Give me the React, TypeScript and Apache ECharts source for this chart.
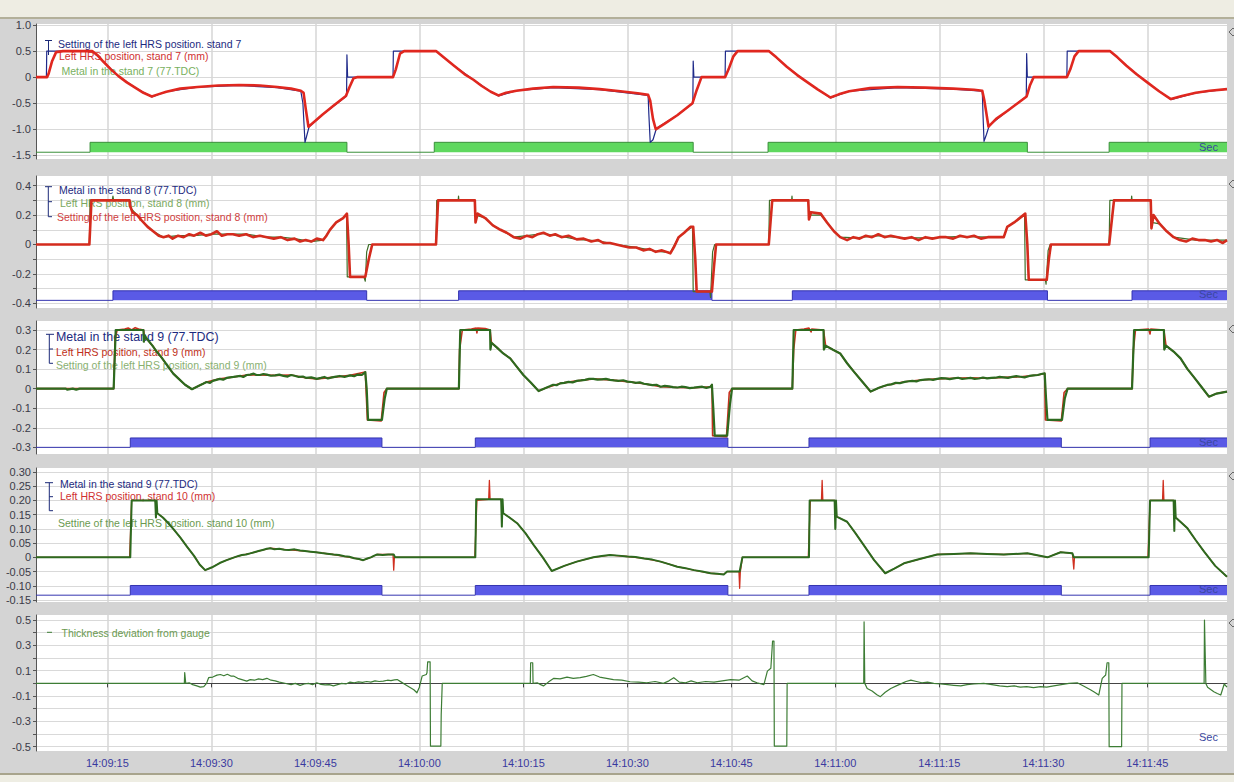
import React, { useEffect, useRef } from "react";
import * as echarts from "echarts";

// ---- time axis (seconds after 14:09:00) ----
const TIME_TICKS = [15, 30, 45, 60, 75, 90, 105, 120, 135, 150, 165];

// ---- y ticks per panel ----
const P1_TICKS = [-1.5, -1.0, -0.5, 0, 0.5, 1.0];
const P1_LABELS = [-1.5, -1.0, -0.5, 0, 0.5, 1.0];
const P2_TICKS = [-0.4, -0.3, -0.2, -0.1, 0, 0.1, 0.2, 0.3, 0.4];
const P2_LABELS = [-0.4, -0.2, 0, 0.2, 0.4];
const P3_TICKS = [-0.3, -0.2, -0.1, 0, 0.1, 0.2, 0.3];
const P3_LABELS = [-0.3, -0.2, -0.1, 0, 0.1, 0.2, 0.3];
const P4_TICKS = [-0.15, -0.1, -0.05, 0, 0.05, 0.1, 0.15, 0.2, 0.25, 0.3];
const P4_LABELS = [-0.15, -0.1, -0.05, 0, 0.05, 0.1, 0.15, 0.2, 0.25, 0.3];
const P5_TICKS = [-0.5, -0.4, -0.3, -0.2, -0.1, 0, 0.1, 0.2, 0.3, 0.4, 0.5];
const P5_LABELS = [-0.5, -0.3, -0.1, 0.1, 0.3, 0.5];

// ---- legend texts ----
const P1_NAMES = ["Setting of the left HRS position. stand 7", "Left HRS position, stand 7 (mm)", "Metal in the stand 7 (77.TDC)"];
const P2_NAMES = ["Metal in the stand 8 (77.TDC)", "Left HRS position, stand 8 (mm)", "Setting of the left HRS position, stand 8 (mm)"];
const P3_NAMES = ["Metal in the stand 9 (77.TDC)", "Left HRS position, stand 9 (mm)", "Setting of the left HRS position, stand 9 (mm)"];
const P4_NAMES = ["Metal in the stand 9 (77.TDC)", "Left HRS position, stand 10 (mm)", "Settine of the left HRS position. stand 10 (mm)"];
const P5_NAMES = ["Thickness deviation from gauge"];

// ---- panel 1 : stand 7 ----
const P1_METAL = [[4.7, -1.44], [12.5, -1.25], [49.55, -1.44], [62.15, -1.25], [99.5, -1.44], [110.3, -1.25], [147.7, -1.44], [159.5, -1.25], [176.5, -1.25]];
const P1_SETTING = [[4.7, 0], [6.2, 0], [6.25, 0.5], [12.8, 0.5], [14.4, 0.3], [16.6, 0.02], [19, -0.2], [21.4, -0.38], [23.5, -0.28], [28, -0.19], [34, -0.16], [39.5, -0.2], [42.9, -0.27], [43.2, -0.5], [43.5, -1.25], [43.8, -1.1], [44.1, -0.95], [46, -0.72], [49.5, -0.36], [49.55, 0.43], [49.65, 0], [56.2, 0], [56.25, 0.5], [62.4, 0.5], [65, 0.22], [67.8, -0.05], [70.3, -0.28], [71.4, -0.36], [74, -0.26], [79.3, -0.2], [86, -0.24], [93, -0.35], [93.1, -0.7], [93.3, -1.25], [93.7, -1.2], [94.2, -0.98], [97.2, -0.73], [99.45, -0.5], [99.5, 0.31], [99.6, 0], [104.1, 0], [104.15, 0.5], [110.4, 0.5], [113, 0.2], [116, -0.1], [119.3, -0.4], [122, -0.27], [129, -0.2], [137, -0.23], [141.2, -0.27], [141.3, -0.7], [141.45, -1.23], [141.8, -1.1], [142.2, -0.93], [144.8, -0.65], [147.55, -0.37], [147.6, 0.45], [147.7, 0], [153.4, 0], [153.45, 0.5], [159.6, 0.5], [162, 0.22], [165, -0.1], [168.4, -0.43], [172, -0.3], [176.5, -0.23]];
const P1_POSITION = [[4.7, 0], [6.3, 0], [6.5, 0.06], [7.0, 0.3], [7.6, 0.48], [8.6, 0.5], [12.8, 0.5], [13.6, 0.42], [14.4, 0.3], [15.5, 0.15], [16.6, 0.02], [17.8, -0.1], [19, -0.2], [20.2, -0.3], [21.4, -0.37], [22.3, -0.33], [23.5, -0.28], [25.5, -0.22], [28, -0.19], [31, -0.16], [34, -0.15], [37, -0.16], [39.5, -0.19], [41.5, -0.22], [42.9, -0.26], [43.3, -0.3], [43.6, -0.6], [44.0, -0.95], [44.8, -0.86], [46, -0.72], [47.6, -0.55], [49.4, -0.36], [49.9, -0.2], [50.5, -0.02], [51, 0], [56.2, 0], [56.6, 0.15], [57.2, 0.45], [57.8, 0.5], [62.4, 0.5], [63.5, 0.38], [65, 0.22], [66.5, 0.06], [67.8, -0.05], [69, -0.17], [70.3, -0.28], [71.4, -0.35], [72.5, -0.3], [74, -0.26], [76.4, -0.22], [79.3, -0.19], [83, -0.2], [86, -0.23], [89, -0.27], [91.5, -0.31], [93, -0.34], [93.3, -0.45], [93.7, -0.8], [94.1, -1.0], [95.5, -0.88], [97.2, -0.73], [99.4, -0.5], [100, -0.25], [100.7, 0], [104.1, 0], [104.6, 0.15], [105.3, 0.4], [105.9, 0.5], [110.4, 0.5], [111.5, 0.38], [113, 0.2], [114.5, 0.04], [116, -0.1], [117.5, -0.24], [119.3, -0.39], [120.5, -0.33], [122, -0.27], [125, -0.21], [129, -0.19], [133, -0.2], [137, -0.22], [140, -0.24], [141.2, -0.26], [141.5, -0.45], [142.1, -0.95], [143.2, -0.8], [144.8, -0.65], [146.3, -0.5], [147.6, -0.37], [148.1, -0.15], [148.6, 0], [153.4, 0], [153.9, 0.15], [154.5, 0.4], [155.1, 0.5], [159.6, 0.5], [160.7, 0.38], [162, 0.22], [163.5, 0.05], [165, -0.1], [166.7, -0.27], [168.4, -0.42], [170, -0.36], [172, -0.3], [174, -0.26], [176.5, -0.23]];

// ---- panel 2 : stand 8 ----
const P2_METAL = [[4.7, -0.38], [15.8, -0.315], [52.4, -0.38], [65.66, -0.315], [102.2, -0.38], [113.8, -0.315], [150.6, -0.38], [162.8, -0.315], [176.5, -0.315]];
const P2_POSITION = [[4.7, 0], [12.4, 0], [12.5, 0.3], [15.7, 0.3], [15.8, 0.33], [15.9, 0.3], [18.2, 0.3], [18.3, 0.25], [19.3, 0.2], [20.0, 0.16], [21.6, 0.09], [23.1, 0.05], [25.2, 0.06], [27.5, 0.06], [30, 0.07], [32.3, 0.07], [35, 0.07], [38, 0.05], [40, 0.05], [42, 0.04], [44.4, 0.02], [46.1, 0.03], [47.1, 0.1], [48, 0.15], [49, 0.18], [49.5, 0.2], [49.6, -0.22], [52, -0.22], [52.2, -0.25], [52.4, -0.05], [52.7, 0], [62.4, 0], [62.5, 0.3], [65.6, 0.3], [65.65, 0.33], [65.7, 0.3], [68, 0.3], [68.1, 0.2], [69.5, 0.18], [70.6, 0.13], [71.7, 0.1], [73.6, 0.05], [75.5, 0.06], [77.9, 0.075], [80.5, 0.055], [82.7, 0.035], [85.8, 0.025], [88.4, 0.0], [91.3, -0.02], [94.1, -0.045], [96.2, -0.055], [97.4, 0.05], [98.2, 0.08], [99.4, 0.12], [99.5, -0.32], [101.9, -0.32], [102.0, -0.36], [102.3, -0.05], [102.6, 0], [110.4, 0], [110.5, 0.3], [113.7, 0.3], [113.75, 0.33], [113.8, 0.3], [116.1, 0.3], [116.2, 0.2], [117.9, 0.2], [118.8, 0.15], [119.8, 0.09], [120.7, 0.05], [123, 0.045], [126, 0.06], [130, 0.045], [134, 0.045], [138, 0.055], [142, 0.05], [144.3, 0.05], [144.8, 0.12], [145.8, 0.15], [147.3, 0.2], [147.4, -0.24], [150.3, -0.24], [150.4, -0.27], [150.7, -0.04], [151, 0], [159.5, 0], [159.6, 0.3], [162.7, 0.3], [162.75, 0.33], [162.8, 0.3], [165.5, 0.3], [165.6, 0.15], [166.8, 0.14], [167.8, 0.09], [168.8, 0.05], [172, 0.03], [176.5, 0.03]];
const P2_SETTING = [[4.7, 0], [12.4, 0], [12.7, 0.3], [18.2, 0.3], [18.3, 0.26], [18.6, 0.22], [19.3, 0.2], [20.0, 0.16], [20.8, 0.12], [21.6, 0.09], [22.4, 0.06], [23.1, 0.05], [23.8, 0.06], [24.4, 0.04], [25.2, 0.06], [26, 0.05], [26.8, 0.07], [27.5, 0.06], [28.4, 0.08], [29.2, 0.06], [30, 0.07], [30.8, 0.09], [31.5, 0.06], [32.3, 0.07], [33.1, 0.07], [34, 0.06], [35, 0.07], [36, 0.05], [37, 0.06], [38, 0.05], [39, 0.04], [40, 0.05], [41, 0.03], [42, 0.04], [42.8, 0.02], [43.6, 0.03], [44.4, 0.02], [45.2, 0.04], [46.1, 0.03], [46.6, 0.06], [47.1, 0.1], [48, 0.15], [49, 0.18], [49.55, 0.21], [49.8, 0.0], [50.0, -0.22], [52.2, -0.22], [52.7, -0.1], [53.2, 0], [62.4, 0], [62.7, 0.3], [68.0, 0.3], [68.1, 0.15], [68.4, 0.21], [69.5, 0.18], [70.6, 0.13], [71.7, 0.1], [72.6, 0.08], [73.6, 0.05], [74.6, 0.04], [75.5, 0.06], [76.3, 0.05], [77.1, 0.07], [77.9, 0.08], [78.8, 0.06], [79.6, 0.07], [80.5, 0.05], [81.5, 0.06], [82.7, 0.035], [83.7, 0.04], [84.8, 0.02], [85.8, 0.03], [86.6, 0.01], [87.5, 0.01], [88.4, 0.0], [89.3, -0.01], [90.3, -0.02], [91.3, -0.02], [92.3, -0.04], [93.2, -0.03], [94.1, -0.05], [95.0, -0.04], [96.2, -0.06], [96.7, -0.02], [97.4, 0.05], [98.2, 0.08], [99.1, 0.12], [99.5, 0.12], [99.8, -0.1], [100.0, -0.32], [102.2, -0.32], [102.5, -0.15], [102.8, 0], [110.4, 0], [110.9, 0.3], [116.1, 0.3], [116.2, 0.17], [116.5, 0.22], [117.9, 0.21], [118.8, 0.15], [119.8, 0.09], [120.7, 0.05], [121.7, 0.03], [122.6, 0.05], [123.5, 0.04], [124.4, 0.06], [125.3, 0.05], [126.2, 0.07], [127.1, 0.05], [128, 0.06], [129, 0.05], [130, 0.04], [131, 0.05], [132, 0.03], [133, 0.05], [134, 0.04], [135, 0.05], [136, 0.05], [137, 0.04], [138, 0.06], [139, 0.05], [140, 0.06], [141, 0.04], [142, 0.05], [143, 0.05], [144.3, 0.05], [144.8, 0.12], [145.8, 0.15], [147.4, 0.21], [147.7, 0.0], [147.9, -0.24], [150.5, -0.24], [150.8, -0.1], [151.1, 0], [159.5, 0], [160.2, 0.3], [165.5, 0.3], [165.6, 0.11], [165.9, 0.2], [166.8, 0.14], [167.8, 0.09], [168.8, 0.05], [169.7, 0.03], [170.6, 0.02], [171.5, 0.04], [172.4, 0.03], [173.3, 0.03], [174.2, 0.02], [175.1, 0.03], [175.9, 0.01], [176.5, 0.03]];

// ---- panel 3 : stand 9 ----
const P3_METAL = [[4.7, -0.3], [18.3, -0.252], [54.6, -0.3], [68.07, -0.252], [104.5, -0.3], [116.2, -0.252], [152.6, -0.3], [165.4, -0.252], [176.5, -0.252]];
const P3_POSITION = [[4.7, 0], [15.9, 0], [16.1, 0.25], [16.4, 0.3], [17.5, 0.305], [18, 0.31], [18.5, 0.3], [19.0, 0.312], [19.5, 0.305], [20.2, 0.3], [20.4, 0.26], [20.8, 0.25], [21.5, 0.22], [22.1, 0.19], [22.8, 0.16], [23.6, 0.12], [24.5, 0.077], [25.3, 0.05], [26.2, 0.02], [27.2, -0.003], [28.2, 0.015], [29.3, 0.034], [31.2, 0.05], [33.2, 0.06], [35.1, 0.07], [37, 0.07], [39.2, 0.068], [41.5, 0.07], [43.7, 0.055], [45.2, 0.05], [47.4, 0.058], [50.0, 0.068], [52.2, 0.085], [52.5, -0.16], [54.5, -0.165], [54.9, -0.02], [55.3, 0], [65.7, 0], [65.8, 0.2], [66.2, 0.3], [67.5, 0.305], [68.2, 0.31], [68.3, 0.285], [68.4, 0.31], [69.5, 0.308], [70.2, 0.3], [70.4, 0.235], [71.2, 0.21], [72.1, 0.18], [73.1, 0.155], [74.1, 0.11], [75.0, 0.07], [76.1, 0.03], [77.2, -0.012], [78.3, 0.005], [80.3, 0.027], [82.7, 0.04], [85.1, 0.05], [87.5, 0.045], [90, 0.036], [92.4, 0.025], [94.8, 0.01], [97.2, 0.006], [99.6, 0.005], [102.0, 0.01], [102.2, 0.02], [102.3, -0.24], [104.3, -0.245], [104.7, -0.02], [105.1, 0], [113.8, 0], [114.0, 0.2], [114.3, 0.3], [115.5, 0.305], [116.2, 0.31], [116.5, 0.29], [116.6, 0.305], [118.3, 0.3], [118.6, 0.22], [119.6, 0.2], [120.7, 0.18], [121.7, 0.13], [122.7, 0.086], [123.9, 0.035], [125.1, -0.015], [126.3, 0.005], [127.5, 0.019], [130, 0.035], [132.3, 0.044], [134.7, 0.05], [137.1, 0.053], [139.5, 0.055], [141.9, 0.053], [144.3, 0.058], [146.7, 0.061], [149.2, 0.07], [150.2, 0.078], [150.3, -0.16], [152.6, -0.165], [153, -0.02], [153.5, 0], [162.8, 0], [163, 0.2], [163.3, 0.3], [165.2, 0.305], [165.4, 0.28], [165.5, 0.305], [167.4, 0.3], [167.7, 0.22], [168.8, 0.19], [169.8, 0.155], [170.8, 0.1], [171.7, 0.06], [172.8, 0.01], [173.9, -0.041], [175, -0.025], [176.5, -0.015]];
const P3_SETTING = [[4.7, 0], [9, 0], [9.2, -0.005], [10, 0], [10.5, -0.005], [11, 0], [15.9, 0], [16.2, 0.3], [20.2, 0.3], [20.25, 0.24], [20.4, 0.27], [20.8, 0.25], [21.5, 0.22], [22.1, 0.19], [22.8, 0.16], [23.6, 0.12], [24.5, 0.077], [25.3, 0.05], [26.2, 0.02], [27.2, -0.003], [28.2, 0.015], [28.8, 0.025], [29.3, 0.034], [29.8, 0.03], [30.2, 0.04], [30.7, 0.045], [31.2, 0.05], [31.7, 0.046], [32.2, 0.055], [32.7, 0.058], [33.2, 0.06], [33.7, 0.063], [34.2, 0.065], [34.6, 0.06], [35.1, 0.07], [35.6, 0.072], [36.1, 0.077], [36.5, 0.07], [37, 0.07], [37.5, 0.075], [38, 0.072], [38.6, 0.066], [39.2, 0.068], [39.8, 0.072], [40.4, 0.065], [41, 0.062], [41.5, 0.07], [42, 0.066], [42.6, 0.06], [43.2, 0.062], [43.7, 0.055], [44.4, 0.058], [45.2, 0.05], [45.8, 0.055], [46.3, 0.06], [46.8, 0.052], [47.4, 0.058], [48, 0.062], [48.5, 0.065], [49.2, 0.06], [50.0, 0.068], [50.6, 0.064], [51.1, 0.072], [51.7, 0.07], [52.2, 0.085], [52.4, 0.0], [52.6, -0.16], [54.6, -0.16], [55.0, -0.05], [55.3, 0], [65.7, 0], [65.9, 0.3], [70.2, 0.3], [70.25, 0.2], [70.4, 0.235], [71.2, 0.21], [72.1, 0.18], [73.1, 0.155], [74.1, 0.11], [75.0, 0.07], [76.1, 0.03], [77.2, -0.012], [78.3, 0.005], [78.8, 0.012], [79.3, 0.02], [79.8, 0.018], [80.3, 0.027], [80.9, 0.03], [81.5, 0.035], [82.1, 0.032], [82.7, 0.04], [83.3, 0.042], [83.9, 0.045], [84.5, 0.05], [85.1, 0.05], [85.7, 0.046], [86.3, 0.048], [86.9, 0.05], [87.5, 0.045], [88.1, 0.042], [88.7, 0.04], [89.4, 0.043], [90, 0.036], [90.6, 0.034], [91.2, 0.03], [91.8, 0.032], [92.4, 0.025], [93, 0.022], [93.6, 0.018], [94.2, 0.02], [94.8, 0.01], [95.4, 0.014], [96, 0.012], [96.6, 0.008], [97.2, 0.006], [97.8, 0.01], [98.4, 0.008], [99, 0.003], [99.6, 0.005], [100.2, 0.008], [100.8, 0.01], [101.4, 0.004], [102.0, 0.01], [102.2, 0.02], [102.4, -0.1], [102.6, -0.24], [104.4, -0.24], [104.8, -0.08], [105.1, 0], [113.8, 0], [114.0, 0.3], [118.3, 0.3], [118.35, 0.2], [118.6, 0.22], [119.6, 0.2], [120.7, 0.18], [121.7, 0.13], [122.7, 0.086], [123.9, 0.035], [125.1, -0.015], [126.3, 0.005], [126.9, 0.012], [127.5, 0.019], [128.1, 0.022], [128.7, 0.03], [129.3, 0.028], [130, 0.035], [130.6, 0.038], [131.1, 0.04], [131.7, 0.037], [132.3, 0.044], [132.9, 0.046], [133.5, 0.048], [134.1, 0.045], [134.7, 0.05], [135.3, 0.054], [135.9, 0.053], [136.5, 0.049], [137.1, 0.053], [137.7, 0.056], [138.3, 0.05], [138.9, 0.052], [139.5, 0.055], [140.1, 0.05], [140.7, 0.052], [141.3, 0.057], [141.9, 0.053], [142.5, 0.055], [143.1, 0.056], [143.7, 0.06], [144.3, 0.058], [144.9, 0.055], [145.5, 0.06], [146.1, 0.064], [146.7, 0.061], [147.3, 0.058], [148, 0.065], [148.6, 0.068], [149.2, 0.07], [149.7, 0.075], [150.2, 0.078], [150.4, -0.05], [150.6, -0.16], [152.7, -0.16], [153.1, -0.05], [153.5, 0], [162.8, 0], [163.1, 0.3], [167.4, 0.3], [167.45, 0.2], [167.7, 0.22], [168.8, 0.19], [169.8, 0.155], [170.8, 0.1], [171.7, 0.06], [172.8, 0.01], [173.9, -0.041], [175, -0.025], [176.5, -0.015]];

// ---- panel 4 : stand 10 ----
const P4_METAL = [[4.7, -0.133], [18.3, -0.099], [54.6, -0.133], [68.07, -0.099], [104.5, -0.133], [116.2, -0.099], [152.6, -0.133], [165.4, -0.099], [176.5, -0.099]];
const P4_POSITION = [[4.7, 0], [18.2, 0], [18.35, 0.1], [18.5, 0.2], [21.9, 0.2], [22.2, 0.155], [23.0, 0.14], [23.6, 0.125], [24.5, 0.1], [25.5, 0.07], [26.5, 0.037], [27.5, 0.005], [28.3, -0.025], [29.1, -0.045], [30.1, -0.035], [31.2, -0.02], [32.2, -0.01], [33.3, 0], [34.4, 0.008], [35.6, 0.014], [36.8, 0.022], [38.5, 0.032], [41.2, 0.026], [44.3, 0.02], [47.6, 0.01], [50.6, -0.003], [51.9, -0.01], [53, 0], [53.9, 0.01], [56.2, 0.01], [56.3, -0.045], [56.4, 0], [68.0, 0], [68.15, 0.1], [68.3, 0.2], [70.0, 0.204], [70.1, 0.27], [70.2, 0.204], [71.8, 0.204], [72.1, 0.155], [73.0, 0.14], [74.1, 0.12], [75.3, 0.085], [76.5, 0.043], [77.8, 0.0], [79.1, -0.048], [80.9, -0.03], [82.7, -0.015], [85.1, 0], [87.5, 0.008], [90, 0.003], [92.4, -0.004], [94.8, -0.015], [97.2, -0.033], [99.6, -0.045], [102, -0.056], [103.9, -0.06], [104.4, -0.05], [106.1, -0.05], [106.2, -0.109], [106.3, -0.05], [106.6, 0], [116.1, 0], [116.25, 0.1], [116.4, 0.2], [118.0, 0.2], [118.1, 0.27], [118.2, 0.2], [119.9, 0.2], [120.2, 0.143], [121.7, 0.125], [122.9, 0.085], [124.1, 0.043], [125.6, -0.01], [127.2, -0.056], [128.5, -0.04], [129.9, -0.021], [132.3, -0.005], [134.7, 0.01], [137.1, 0.012], [139.5, 0.014], [141.9, 0.012], [144.3, 0.01], [147.7, 0.014], [150.6, 0], [152.5, 0.018], [154.2, 0.014], [154.4, -0.041], [154.5, 0], [165.1, 0], [165.25, 0.1], [165.4, 0.2], [167.2, 0.2], [167.3, 0.27], [167.4, 0.2], [168.8, 0.2], [169.1, 0.14], [170.8, 0.102], [172, 0.06], [173.2, 0.02], [174.8, -0.03], [176.5, -0.068]];
const P4_SETTING = [[4.7, 0], [18.3, 0], [18.5, 0.2], [21.9, 0.2], [22.0, 0.14], [22.1, 0.2], [22.2, 0.155], [23.0, 0.14], [23.6, 0.125], [24.5, 0.1], [25.5, 0.07], [26.5, 0.037], [27.5, 0.005], [28.3, -0.025], [29.1, -0.045], [30.1, -0.035], [31.2, -0.02], [32.2, -0.01], [33.3, 0], [33.9, 0.005], [34.4, 0.008], [35, 0.01], [35.6, 0.014], [36.2, 0.018], [36.8, 0.022], [37.4, 0.026], [38, 0.03], [38.5, 0.032], [39.1, 0.028], [39.8, 0.03], [40.5, 0.027], [41.2, 0.026], [42, 0.028], [42.8, 0.024], [43.5, 0.022], [44.3, 0.02], [45.1, 0.018], [45.9, 0.015], [46.7, 0.013], [47.6, 0.01], [48.4, 0.008], [49.2, 0.004], [49.9, 0.002], [50.6, -0.003], [51.3, -0.006], [51.9, -0.01], [52.5, -0.004], [53, 0], [53.5, 0.006], [53.9, 0.01], [54.7, 0.008], [55.5, 0.01], [56.3, 0.01], [56.5, 0], [68.07, 0], [68.2, 0.204], [71.8, 0.204], [71.9, 0.108], [72.0, 0.204], [72.1, 0.155], [73.0, 0.14], [74.1, 0.12], [75.3, 0.085], [76.5, 0.043], [77.8, 0.0], [79.1, -0.048], [80.9, -0.03], [82.7, -0.015], [85.1, 0], [86.3, 0.005], [87.5, 0.008], [88.7, 0.006], [90, 0.003], [91.2, 0.001], [92.4, -0.004], [93.6, -0.008], [94.8, -0.015], [96, -0.024], [97.2, -0.033], [98.4, -0.038], [99.6, -0.045], [100.8, -0.05], [102.0, -0.056], [103, -0.058], [103.9, -0.06], [104.4, -0.05], [106.2, -0.05], [106.6, 0], [116.2, 0], [116.3, 0.2], [119.9, 0.2], [120.0, 0.1], [120.1, 0.2], [120.2, 0.143], [121.7, 0.125], [122.9, 0.085], [124.1, 0.043], [125.6, -0.01], [127.2, -0.056], [128.5, -0.04], [129.9, -0.021], [132.3, -0.005], [134.7, 0.01], [137.1, 0.012], [139.5, 0.014], [141.9, 0.012], [144.3, 0.01], [147.7, 0.014], [150.6, 0], [152.5, 0.018], [154.2, 0.014], [154.4, 0], [165.2, 0], [165.4, 0.2], [168.8, 0.2], [168.9, 0.093], [169.0, 0.2], [169.1, 0.14], [170.8, 0.102], [172, 0.06], [173.2, 0.02], [174.8, -0.03], [176.5, -0.068]];

// ---- panel 5 : thickness deviation ----
const P5_DEVIATION = [[4.7, 0], [26.1, 0], [26.15, 0.085], [26.25, 0.085], [26.3, 0.0], [26.8, 0.005], [27.3, -0.01], [27.9, -0.02], [28.4, -0.03], [28.9, -0.025], [29.3, 0.0], [29.6, 0.045], [30.2, 0.05], [30.8, 0.065], [31.3, 0.07], [31.8, 0.06], [32.3, 0.072], [32.8, 0.058], [33.2, 0.058], [33.8, 0.04], [34.4, 0.03], [35.1, 0.018], [35.6, 0.03], [36.2, 0.025], [36.8, 0.035], [37.4, 0.03], [38.0, 0.04], [38.6, 0.025], [39.2, 0.02], [39.8, 0.01], [40.3, 0.005], [40.9, -0.003], [41.5, -0.01], [42.1, 0.0], [42.8, -0.016], [43.4, -0.005], [44.0, 0.0], [44.6, -0.01], [45.2, 0.005], [45.8, -0.008], [46.4, -0.012], [47.0, -0.01], [47.6, -0.02], [48.2, -0.01], [48.8, 0.0], [49.4, -0.005], [50.0, 0.01], [50.6, 0.005], [51.2, 0.012], [51.8, 0.008], [52.4, 0.015], [53.0, 0.01], [53.6, 0.02], [54.2, 0.015], [54.8, 0.018], [55.4, 0.025], [55.9, 0.022], [56.4, 0.028], [56.8, 0.03], [57.4, 0.01], [58.0, -0.01], [58.6, -0.03], [59.2, -0.05], [59.65, -0.074], [60.0, -0.03], [60.4, 0.058], [61.0, 0.07], [61.1, 0.084], [61.2, 0.17], [61.55, 0.17], [61.6, -0.495], [63.1, -0.495], [63.15, -0.25], [63.3, 0], [76.0, 0], [76.05, 0.163], [76.35, 0.163], [76.4, 0.0], [77.0, 0.005], [77.5, -0.01], [77.9, -0.02], [78.6, 0.01], [79.4, 0.04], [80.3, 0.035], [81.3, 0.05], [82.2, 0.04], [83.2, 0.045], [84.1, 0.055], [85.1, 0.07], [86.0, 0.05], [87.0, 0.04], [88.0, 0.03], [89.2, 0.025], [90.4, 0.013], [91.6, 0.01], [92.8, 0.005], [94.0, 0.015], [95.2, 0.0], [96.0, 0.02], [96.7, 0.045], [97.5, 0.01], [98.4, 0.005], [99.2, 0.02], [100.1, 0.005], [101.3, 0.015], [102.5, 0.01], [103.7, 0.02], [104.9, 0.03], [106.1, 0.025], [107.3, 0.058], [108.0, 0.02], [108.7, 0.005], [109.7, -0.01], [110.2, 0.097], [110.7, 0.12], [110.95, 0.334], [111.15, 0.334], [111.2, -0.495], [113.0, -0.495], [113.05, 0], [124.1, 0], [124.15, 0.486], [124.25, 0], [124.6, -0.04], [125.3, -0.06], [126.0, -0.09], [126.5, -0.105], [127.2, -0.07], [128.0, -0.04], [128.8, -0.02], [129.6, 0.0], [130.2, 0.015], [130.9, 0.026], [131.7, 0.015], [132.5, 0.005], [133.3, 0.01], [134.2, 0.0], [135.2, -0.005], [136.2, -0.01], [137.1, -0.015], [138.1, -0.02], [139.0, -0.01], [140.0, -0.005], [141.4, 0.0], [142.6, -0.01], [143.7, -0.02], [144.8, -0.026], [145.8, -0.02], [146.7, -0.03], [147.6, -0.025], [148.6, -0.034], [149.6, -0.025], [150.5, -0.03], [151.5, -0.02], [152.6, -0.01], [153.7, 0.0], [154.9, 0.005], [155.8, -0.02], [156.8, -0.05], [157.4, -0.07], [158.0, -0.092], [158.5, 0.04], [159.0, 0.066], [159.2, 0.163], [159.45, 0.163], [159.5, -0.5], [161.3, -0.5], [161.35, 0], [173.2, 0], [173.25, 0.5], [173.35, 0.25], [173.45, 0], [173.7, -0.03], [174.2, -0.05], [174.6, -0.066], [175.1, -0.08], [175.6, -0.092], [176.1, -0.005], [176.5, -0.03]];

// ---- layout ----
const PANELS = [
  { top: 24, height: 135, min: -1.57, max: 1.02, ticks: P1_TICKS, labels: P1_LABELS, dec: 1 },
  { top: 176, height: 132, min: -0.432, max: 0.466, ticks: P2_TICKS, labels: P2_LABELS, dec: 1 },
  { top: 321, height: 133, min: -0.334, max: 0.346, ticks: P3_TICKS, labels: P3_LABELS, dec: 1 },
  { top: 468, height: 134, min: -0.157, max: 0.314, ticks: P4_TICKS, labels: P4_LABELS, dec: 2 },
  { top: 615, height: 136, min: -0.534, max: 0.54, ticks: P5_TICKS, labels: P5_LABELS, dec: 1 },
];
const X_MIN = 4.7;
const X_MAX = 176.5;
const FONT = '"Liberation Sans", Arial, sans-serif';
const LEG = 10.5;

function secToTime(v: number): string {
  const total = 14 * 3600 + 9 * 60 + Math.round(v);
  const h = Math.floor(total / 3600);
  const m = Math.floor((total % 3600) / 60);
  const s = total % 60;
  const p = (n: number) => (n < 10 ? "0" : "") + n;
  return `${h}:${p(m)}:${p(s)}`;
}

function lineSeries(name: string, idx: number, data: number[][], color: string, width: number, z = 3) {
  return {
    type: "line", name, xAxisIndex: idx, yAxisIndex: idx, data,
    showSymbol: false, symbol: "none", z,
    lineStyle: { color, width, join: "round" },
  };
}

function metalSeries(name: string, idx: number, data: number[][], fill: string, line: string, origin: number) {
  return {
    type: "line", name, xAxisIndex: idx, yAxisIndex: idx, data, step: "end",
    showSymbol: false, symbol: "none", z: 2,
    lineStyle: { color: line, width: 1 },
    areaStyle: { color: fill, opacity: 1, origin },
  };
}

function txt(text: string, x: number, y: number, fill: string, size = LEG) {
  return { type: "text", x, y, z: 1, style: { text, fill, font: `${size}px ${FONT}`, verticalAlign: "middle", align: "left" } };
}
function seg(x1: number, y1: number, x2: number, y2: number, stroke = "#1c2a78") {
  return { type: "line", z: 1, shape: { x1, y1, x2, y2 }, style: { stroke, lineWidth: 1 } };
}

export default function App() {
  const ref = useRef<HTMLDivElement>(null);
  useEffect(() => {
    if (!ref.current) return;
    const chart = echarts.init(ref.current, null, { renderer: "svg" });
    const grids = PANELS.map((p) => ({
      left: 36, right: 7, top: p.top, height: p.height,
      show: true, backgroundColor: "#ffffff", borderWidth: 0,
    }));
    const xAxes = PANELS.map((p, i) => {
      const last = i === PANELS.length - 1;
      return {
        type: "value", gridIndex: i, min: X_MIN, max: X_MAX,
        axisLine: { show: last, lineStyle: { color: "#444", width: 1 } },
        axisTick: { show: last, length: 4, customValues: TIME_TICKS, lineStyle: { color: "#444" } },
        axisLabel: {
          show: last, customValues: TIME_TICKS, formatter: (v: number) => secToTime(v),
          color: "#3a3aa0", fontSize: 11, fontFamily: FONT, margin: 6,
        },
        splitLine: { show: true, lineStyle: { color: "#d6d6d6", width: 1.5 } },
      };
    });
    const yAxes = PANELS.map((p, i) => ({
      type: "value", gridIndex: i, min: p.min, max: p.max,
      axisLine: { show: true, lineStyle: { color: "#555", width: 1 } },
      axisTick: { show: true, length: 3, customValues: p.ticks, lineStyle: { color: "#555" } },
      axisLabel: {
        customValues: p.labels,
        formatter: (v: number) => (Math.abs(v) < 1e-9 ? "0" : v.toFixed(p.dec)),
        color: "#3a3a48", fontSize: 11, fontFamily: FONT, margin: 5,
      },
      splitLine: { show: true, lineStyle: { color: "#d9d9d9", width: 1 } },
    }));

    const series = [
      metalSeries(P1_NAMES[2], 0, P1_METAL, "#5fd85f", "#3a8f3a", -1.44),
      lineSeries(P1_NAMES[0], 0, P1_SETTING, "#1f2a8a", 1.2, 3),
      lineSeries(P1_NAMES[1], 0, P1_POSITION, "#e0271f", 2.6, 4),

      metalSeries(P2_NAMES[0], 1, P2_METAL, "#5a5ae6", "#3434b0", -0.38),
      lineSeries(P2_NAMES[1], 1, P2_POSITION, "#3f6f2a", 1.2, 3),
      lineSeries(P2_NAMES[2], 1, P2_SETTING, "#d42b1d", 2.6, 4),

      metalSeries(P3_NAMES[0], 2, P3_METAL, "#5a5ae6", "#3434b0", -0.3),
      lineSeries(P3_NAMES[1], 2, P3_POSITION, "#c8301e", 1.6, 3),
      lineSeries(P3_NAMES[2], 2, P3_SETTING, "#2d6a1f", 2.2, 4),

      metalSeries(P4_NAMES[0], 3, P4_METAL, "#5a5ae6", "#3434b0", -0.133),
      lineSeries(P4_NAMES[1], 3, P4_POSITION, "#d03020", 1.3, 3),
      lineSeries(P4_NAMES[2], 3, P4_SETTING, "#2d6a1f", 2.0, 4),

      lineSeries(P5_NAMES[0], 4, P5_DEVIATION, "#3d7d35", 1.2, 3),
    ];

    const secY = [147, 294, 442, 589, 737];
    const diamondY = PANELS.map((p) => p.top + 8);
    const graphic: any[] = [
      { type: "rect", z: 0, shape: { x: 0, y: 0, width: 1234, height: 17 }, style: { fill: "#eeede3" } },
      { type: "rect", z: 0, shape: { x: 0, y: 17, width: 1234, height: 2 }, style: { fill: "#b3b09a" } },
      { type: "rect", z: 0, shape: { x: 0, y: 773, width: 1234, height: 2 }, style: { fill: "#a8a48c" } },
      { type: "rect", z: 0, shape: { x: 0, y: 775, width: 1234, height: 7 }, style: { fill: "#eeede3" } },
      // panel 1 legend
      seg(45, 40.5, 52, 40.5), seg(48.5, 40.5, 48.5, 55),
      txt(P1_NAMES[0], 58, 43.5, "#1c2a80"),
      txt(P1_NAMES[1], 59, 56, "#d03030"),
      txt(P1_NAMES[2], 61.5, 70.5, "#78b060"),
      // panel 2 legend
      seg(45, 186.7, 52, 186.7), seg(48.3, 186.7, 48.3, 216.7), seg(48.3, 201.7, 52, 201.7), seg(48.3, 216.7, 52, 216.7),
      txt(P2_NAMES[0], 59, 189.5, "#1c2a80"),
      txt(P2_NAMES[1], 60, 203, "#7aa860"),
      txt(P2_NAMES[2], 57, 216.5, "#d04040"),
      // panel 3 legend
      seg(46, 334.3, 54, 334.3), seg(49.3, 334.3, 49.3, 363.3), seg(49.3, 349, 53, 349), seg(49.3, 363.3, 53, 363.3),
      txt(P3_NAMES[0], 56, 336.5, "#1c2a80", 12.4),
      txt(P3_NAMES[1], 56, 351.5, "#c03020"),
      txt(P3_NAMES[2], 56, 365, "#88b070"),
      // panel 4 legend
      seg(45, 482.7, 53, 482.7), seg(49.3, 482.7, 49.3, 510.7), seg(49.3, 496.7, 53, 496.7), seg(49.3, 510.7, 53, 510.7),
      txt(P4_NAMES[0], 60, 483.5, "#1c2a80"),
      txt(P4_NAMES[1], 60, 496, "#d03030"),
      txt(P4_NAMES[2], 58, 522.5, "#6a9a50"),
      // panel 5 legend
      seg(47, 632.3, 52, 632.3, "#3d7d35"),
      txt(P5_NAMES[0], 61.5, 633, "#6a9a50"),
    ];
    secY.forEach((y) => {
      graphic.push({ type: "text", x: 1218, y, z: 5, style: { text: "Sec", fill: "#3a48a0", font: `11px ${FONT}`, verticalAlign: "middle", align: "right" } });
    });
    diamondY.forEach((y) => {
      graphic.push({ type: "polygon", z: 5, shape: { points: [[1229, y], [1233, y - 4], [1237, y], [1233, y + 4]] }, style: { fill: "none", stroke: "#666", lineWidth: 1 } });
    });

    chart.setOption({
      animation: false,
      backgroundColor: "#d4d4d4",
      grid: grids,
      xAxis: xAxes,
      yAxis: yAxes,
      series,
      graphic: { elements: graphic },
    });
    return () => chart.dispose();
  }, []);
  return <div ref={ref} style={{ position: "fixed", left: 0, top: 0, width: 1234, height: 782 }} />;
}
